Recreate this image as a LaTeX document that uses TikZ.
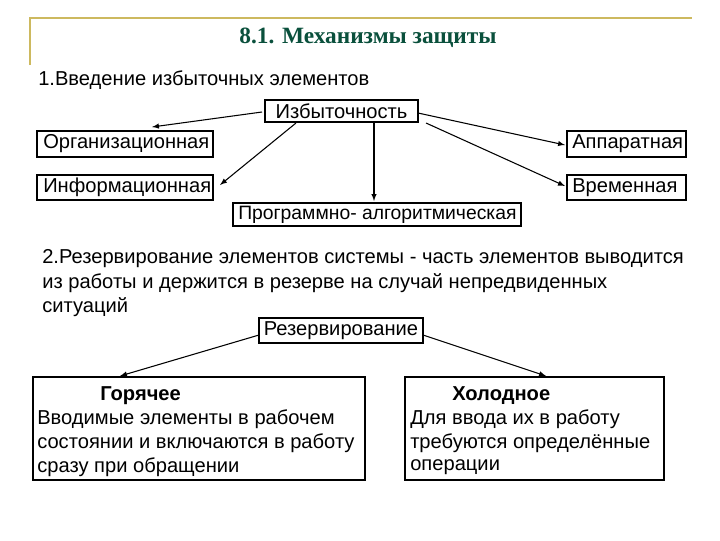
\documentclass[tikz,border=0pt]{standalone}
\usepackage{fontspec}
\setmainfont{Liberation Sans}
\newfontfamily\titlefont{Liberation Serif}
\begin{document}
\begin{tikzpicture}[x=0.75pt,y=-0.75pt,
 bx/.style={draw,thick,inner sep=0pt},
 tx/.style={font=\fontsize{15.1}{17}\selectfont,anchor=west,inner sep=0pt},
 ar/.style={->,>=latex,thick}]
\useasboundingbox (0,0) rectangle (720,540);
\definecolor{gold}{RGB}{205,185,95}
\definecolor{tgreen}{RGB}{10,80,60}
\draw[gold,line width=1.5pt] (30,65)--(30,18)--(692,18);
\node[font=\titlefont\bfseries\fontsize{17.5}{20}\selectfont,text=tgreen] (title) at (368,38) {8.1. Механизмы защиты};
\node[tx] (t1) at (38,80) {1.Введение избыточных элементов};
\draw[bx] (265,100) rectangle (418,122); \node[tx,anchor=center] (iz) at (341.5,111) {Избыточность};
\draw[bx] (37,131) rectangle (213,157); \node[tx] (org) at (43,144) {Организационная};
\draw[bx] (567,131) rectangle (686,157); \node[tx] (app) at (572,144) {Аппаратная};
\draw[bx] (37,175) rectangle (213,200); \node[tx] (inf) at (43,187.5) {Информационная};
\draw[bx] (567,175) rectangle (686,200); \node[tx] (vr) at (572,187.5) {Временная};
\draw[bx] (233,203) rectangle (521,226); \node[tx,font=\fontsize{14.5}{17}\selectfont] (pr) at (238,214.5) {Программно- алгоритмическая};
\coordinate (a1) at (262,112); \coordinate (b1) at (152,127);
\coordinate (a2) at (296,123); \coordinate (b2) at (220,185);
\coordinate (a3) at (374,123); \coordinate (b3) at (374,201);
\coordinate (a4) at (418,113); \coordinate (b4) at (565,145);
\coordinate (a5) at (426,123); \coordinate (b5) at (565,186);
\foreach \i in {1,...,5} \draw[ar] (a\i)--(b\i);
\node[tx] (p1) at (42,259) {2.Резервирование элементов системы - часть элементов выводится};
\node[tx] (p2) at (42,283) {из работы и держится в резерве на случай непредвиденных};
\node[tx] (p3) at (42,307) {ситуаций};
\draw[bx] (259,318) rectangle (423,343); \node[tx,anchor=center] (rz) at (341,330.5) {Резервирование};
\coordinate (c1) at (259,335); \coordinate (d1) at (120,376);
\coordinate (c2) at (423,335); \coordinate (d2) at (546,376);
\draw[ar] (c1)--(d1); \draw[ar] (c2)--(d2);
\draw[bx] (33,377) rectangle (365,480);
\draw[bx] (405,377) rectangle (664,480);
\node[tx,font=\fontsize{15.1}{17}\selectfont\bfseries] (g) at (100,396) {Горячее};
\node[tx] (g1) at (37,419) {Вводимые элементы в рабочем};
\node[tx] (g2) at (37,443) {состоянии и включаются в работу};
\node[tx] (g3) at (37,467) {сразу при обращении};
\node[tx,font=\fontsize{15.1}{17}\selectfont\bfseries] (h) at (452,396) {Холодное};
\node[tx] (h1) at (410,419) {Для ввода их в работу};
\node[tx] (h2) at (410,443) {требуются определённые};
\node[tx] (h3) at (410,467) {операции};
\end{tikzpicture}
\end{document}
